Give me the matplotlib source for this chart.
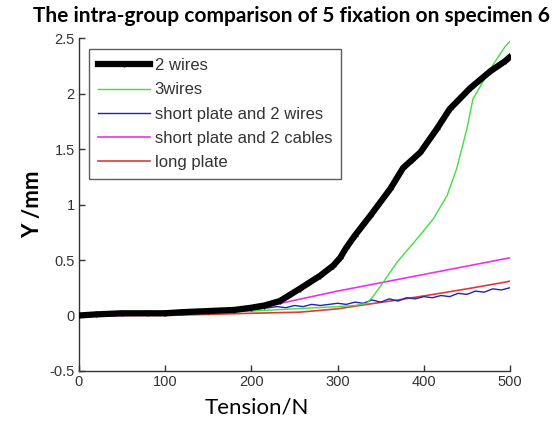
import matplotlib
matplotlib.use('Agg')
import matplotlib.pyplot as plt

# data (tension in N, displacement in mm)
x_two_wires = [0, 20, 50, 80, 100, 120, 150, 180, 200, 215, 233, 256, 280, 295, 303, 310, 320,
               338, 361, 376, 386, 396, 415, 430, 454, 477, 494, 500]
y_two_wires = [0.0, 0.01, 0.02, 0.02, 0.02, 0.03, 0.04, 0.05, 0.07, 0.09, 0.13, 0.24, 0.36,
               0.45, 0.52, 0.61, 0.72, 0.90, 1.14, 1.33, 1.40, 1.47, 1.68, 1.86, 2.05, 2.20,
               2.29, 2.33]

x_three_wires = [0, 50, 100, 150, 200, 250, 300, 320, 334, 341, 353, 369, 392, 411,
                 427, 438, 450, 457, 477, 494, 500]
y_three_wires = [0.0, 0.01, 0.01, 0.02, 0.04, 0.06, 0.08, 0.09, 0.11, 0.17, 0.30, 0.48,
                 0.69, 0.87, 1.08, 1.32, 1.68, 1.95, 2.22, 2.42, 2.47]

x_short_wires = [0, 10, 20, 30, 40, 50, 60, 70, 80, 90, 100, 110, 120, 130, 140, 150, 160,
                 170, 180, 190, 200, 210, 220, 230, 240, 250, 260, 270, 280, 290, 300, 310,
                 320, 330, 340, 350, 360, 370, 380, 390, 400, 410, 420, 430, 440, 450, 460,
                 470, 480, 490, 500]
y_short_wires = [0.0, 0.01, 0.0, 0.01, 0.02, 0.01, 0.02, 0.01, 0.02, 0.01, 0.02, 0.02, 0.01,
                 0.02, 0.03, 0.02, 0.03, 0.03, 0.04, 0.05, 0.05, 0.06, 0.07, 0.08, 0.07, 0.09,
                 0.08, 0.10, 0.09, 0.10, 0.11, 0.10, 0.12, 0.11, 0.14, 0.12, 0.15, 0.13, 0.16,
                 0.15, 0.17, 0.16, 0.18, 0.17, 0.20, 0.19, 0.22, 0.21, 0.24, 0.23, 0.25]

x_short_cables = [0, 50, 100, 150, 200, 222, 300, 400, 500]
y_short_cables = [-0.01, 0.0, 0.01, 0.03, 0.07, 0.09, 0.22, 0.37, 0.52]

x_long_plate = [0, 50, 100, 150, 200, 256, 300, 334, 370, 411, 450, 494, 500]
y_long_plate = [0.0, 0.0, 0.0, 0.01, 0.02, 0.03, 0.06, 0.10, 0.14, 0.19, 0.24, 0.30, 0.31]

x_ticks = [0, 100, 200, 300, 400, 500]
y_ticks = [-0.5, 0, 0.5, 1, 1.5, 2, 2.5]
y_tick_labels = ['-0.5', '0', '0.5', '1', '1.5', '2', '2.5']

fig = plt.figure(figsize=(5.55, 4.23), dpi=100)
ax = fig.add_axes([0.1423, 0.123, 0.7766, 0.787])

ax.plot(x_two_wires, y_two_wires, color='black', lw=4.5, marker='+', ms=4, mew=1,
        label='2 wires', zorder=5)
ax.plot(x_three_wires, y_three_wires, color='#3ee03e', lw=1.0, label='3wires', zorder=4)
ax.plot(x_short_wires, y_short_wires, color='#2222b8', lw=1.0, label='short plate and 2 wires', zorder=3)
ax.plot(x_short_cables, y_short_cables, color='#ee30ee', lw=1.2, label='short plate and 2 cables', zorder=3)
ax.plot(x_long_plate, y_long_plate, color='#e03a3a', lw=1.2, label='long plate', zorder=2)

ax.set_xlim(0, 500)
ax.set_ylim(-0.5, 2.5)
ax.set_xticks(x_ticks)
ax.set_yticks(y_ticks)
ax.set_yticklabels(y_tick_labels)

for side in ['top', 'right']:
    ax.spines[side].set_visible(False)
for side in ['left', 'bottom']:
    ax.spines[side].set_color('#333333')
    ax.spines[side].set_linewidth(1.0)
ax.tick_params(direction='in', length=4, width=1, color='#333333', labelcolor='#333333',
               labelsize=10.5, pad=3)
for lbl in ax.get_xticklabels() + ax.get_yticklabels():
    lbl.set_family('Liberation Sans')

leg = ax.legend(loc='upper left', bbox_to_anchor=(0.023, 0.967), borderaxespad=0,
                prop={'family': 'Liberation Sans', 'size': 12}, frameon=True, fancybox=False,
                edgecolor='#333333', handlelength=3.1, handletextpad=0.3, labelspacing=0.55,
                borderpad=0.55, numpoints=1)
leg.get_frame().set_linewidth(1.0)
for txt in leg.get_texts():
    txt.set_color('#333333')

ax.set_xlabel('Tension/N', family='Lato', fontsize=16)
ax.xaxis.set_label_coords(0.413, -0.111)
ax.xaxis.label.set_va('center')
ax.set_ylabel('Y /mm', family='Lato', fontsize=16, fontweight='bold')
ax.yaxis.set_label_coords(-0.108, 0.5)
ax.yaxis.label.set_va('center')

fig.text(0.526, 0.962, 'The intra-group comparison of 5 fixation on specimen 6',
         ha='center', va='center', family='Lato', fontweight='bold', fontsize=15)

fig.savefig('out.png', dpi=100)
